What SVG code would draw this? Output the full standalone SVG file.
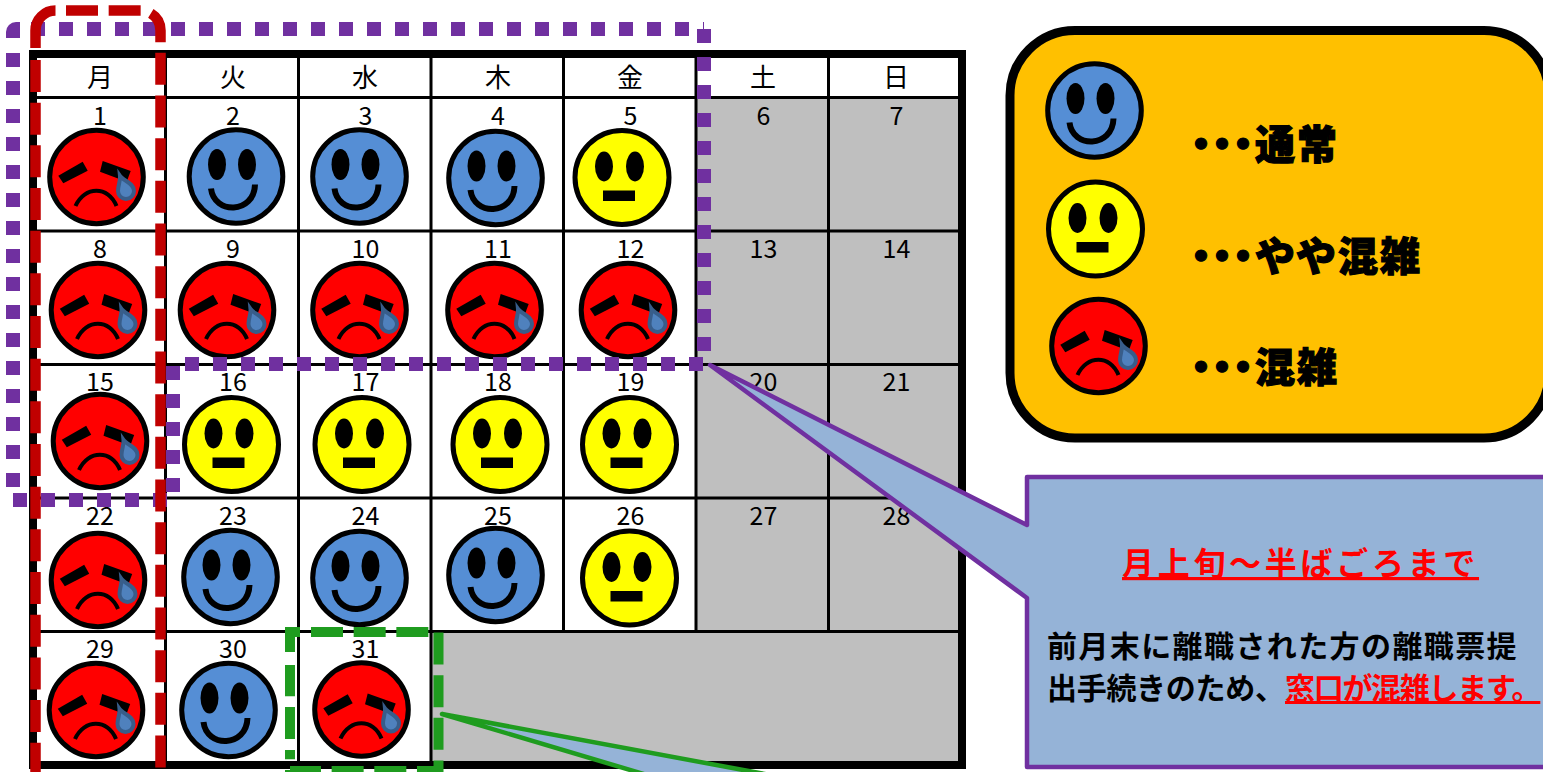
<svg xmlns="http://www.w3.org/2000/svg" width="1543" height="772" viewBox="0 0 1543 772">
<style>
text{font-family:"Noto Sans CJK JP","Liberation Sans",sans-serif;fill:#000}
.h{font-size:26px;text-anchor:middle}
.n{font-size:25px;text-anchor:middle}
.grid{stroke:#000;stroke-width:3;fill:none}
.leg{font-size:40px;font-weight:900;stroke:#000;stroke-width:1.2px}
.t{font-size:30px;font-weight:700}
.r{fill:#f00;text-decoration:underline}
.pd{fill:none;stroke:#7030A0;stroke-width:14;stroke-dasharray:14 14}
.rd{fill:none;stroke:#C00000;stroke-width:10.5;stroke-dasharray:32 10.67}
.gd{fill:none;stroke:#1F9C1F;stroke-width:10;stroke-dasharray:32 10.67}
.face{stroke:#000;stroke-width:5}
</style>
<defs>
<g id="blue">
<circle r="46.8" fill="#558ED5" class="face"/>
<ellipse cx="-19" cy="-12" rx="9" ry="15.5"/><ellipse cx="11" cy="-12" rx="9" ry="15.5"/>
<path d="M-25 12C-22 38 18 38 19 8" fill="none" stroke="#000" stroke-width="6"/>
</g>
<g id="yellow">
<circle r="47" fill="#FF0" class="face"/>
<ellipse cx="-18" cy="-11" rx="9" ry="15"/><ellipse cx="13" cy="-11" rx="9" ry="15"/>
<rect x="-19" y="13" width="32" height="10.5"/>
</g>
<g id="red">
<circle r="46.8" fill="#F00" class="face"/>
<path d="M-38.2-1.3L-13.8-15.3L-8.8-6.3L-33.2 6.3Z"/>
<path d="M6.2-16L34.2-6L30.2 4.7L3.5-5.3Z"/>
<path d="M-21 29C-12 8.600 12 8.600 20 29" fill="none" stroke="#000" stroke-width="4"/>
<path d="M23.500-1C27 4 37.500 6 37.500 14A8 8 0 0 1 21.500 14C21.500 8 24 4 23.500-1Z" fill="#4F81BD" stroke="#385D8A" stroke-width="4"/>
</g>
</defs>
<rect width="1543" height="772" fill="#fff"/>
<g id="calendar">
<rect x="696" y="97" width="262" height="534" fill="#BFBFBF"/>
<rect x="431" y="631" width="527" height="130" fill="#BFBFBF"/>
<path class="grid" d="M37 97.500H958M37 231H958M37 364.500H958M37 498H958M37 631.500H958M165.500 58V761M298.500 58V761M431 58V761M563.500 58V631M696 58V631M828.500 58V631"/>
<rect x="33" y="54" width="929" height="711" fill="none" stroke="#000" stroke-width="8"/>
</g>
<g id="headers">
<text class="h" x="100" y="87">月</text><text class="h" x="233" y="87">火</text><text class="h" x="365" y="87">水</text><text class="h" x="498" y="87">木</text><text class="h" x="630" y="87">金</text><text class="h" x="763" y="87">土</text><text class="h" x="896" y="87">日</text>
</g>
<g id="d1"><text class="n" x="100" y="125">1</text><use href="#red" x="96.500" y="177"/></g>
<g id="d2"><text class="n" x="233" y="125">2</text><use href="#blue" x="236" y="176.500"/></g>
<g id="d3"><text class="n" x="365.500" y="125">3</text><use href="#blue" x="359.500" y="176.500"/></g>
<g id="d4"><text class="n" x="498" y="125">4</text><use href="#blue" x="495.500" y="178"/></g>
<g id="d5"><text class="n" x="630.500" y="125">5</text><use href="#yellow" x="622" y="177.500"/></g>
<g id="d6"><text class="n" x="763.500" y="125">6</text></g>
<g id="d7"><text class="n" x="896.500" y="125">7</text></g>
<g id="d8"><text class="n" x="100" y="258">8</text><use href="#red" x="98" y="310"/></g>
<g id="d9"><text class="n" x="233" y="258">9</text><use href="#red" x="227" y="310"/></g>
<g id="d10"><text class="n" x="365.500" y="258">10</text><use href="#red" x="359.500" y="310"/></g>
<g id="d11"><text class="n" x="498" y="258">11</text><use href="#red" x="494.500" y="310"/></g>
<g id="d12"><text class="n" x="630.500" y="258">12</text><use href="#red" x="628" y="310"/></g>
<g id="d13"><text class="n" x="763.500" y="258">13</text></g>
<g id="d14"><text class="n" x="896.500" y="258">14</text></g>
<g id="d15"><text class="n" x="100" y="391">15</text><use href="#red" x="100" y="441"/></g>
<g id="d16"><text class="n" x="233" y="391">16</text><use href="#yellow" x="231.500" y="444.500"/></g>
<g id="d17"><text class="n" x="365.500" y="391">17</text><use href="#yellow" x="362" y="444.500"/></g>
<g id="d18"><text class="n" x="498" y="391">18</text><use href="#yellow" x="500" y="444.500"/></g>
<g id="d19"><text class="n" x="630.500" y="391">19</text><use href="#yellow" x="629.500" y="444.500"/></g>
<g id="d20"><text class="n" x="763.500" y="391">20</text></g>
<g id="d21"><text class="n" x="896.500" y="391">21</text></g>
<g id="d22"><text class="n" x="100" y="525">22</text><use href="#red" x="98" y="580"/></g>
<g id="d23"><text class="n" x="233" y="525">23</text><use href="#blue" x="230.500" y="577"/></g>
<g id="d24"><text class="n" x="365.500" y="525">24</text><use href="#blue" x="359.500" y="578"/></g>
<g id="d25"><text class="n" x="498" y="525">25</text><use href="#blue" x="495.500" y="575"/></g>
<g id="d26"><text class="n" x="630.500" y="525">26</text><use href="#yellow" x="629.500" y="578"/></g>
<g id="d27"><text class="n" x="763.500" y="525">27</text></g>
<g id="d28"><text class="n" x="896.500" y="525">28</text></g>
<g id="d29"><text class="n" x="100" y="658">29</text><use href="#red" x="96" y="710"/></g>
<g id="d30"><text class="n" x="233" y="658">30</text><use href="#blue" x="228.500" y="710"/></g>
<g id="d31"><text class="n" x="365.500" y="658">31</text><use href="#red" x="361.500" y="709.500"/></g>
<g id="legend">
<rect x="1010" y="30.500" width="539" height="407.500" rx="65" fill="#FFC000" stroke="#000" stroke-width="9"/>
<use href="#blue" x="1094.500" y="110.500"/>
<use href="#yellow" x="1095.500" y="229"/>
<use href="#red" x="1098.500" y="346"/>
<text class="leg" x="1181 1202 1223 1255 1297" y="159">・・・通常</text>
<text class="leg" x="1181 1202 1223 1255 1296 1338 1380" y="271">・・・やや混雑</text>
<text class="leg" x="1181 1202 1223 1255 1297" y="382">・・・混雑</text>
</g>
<g id="connectors">
<path class="pd" d="M31 29H690M704 29V365M703 364H185M173 366V492M167 500H13M13 487V53"/>
<path d="M6 38V32A10 10 0 0 1 16 22H20V38Z" fill="#7030A0"/>
<path d="M703.500 22V29" stroke="#7030A0" fill="none"/>
<path class="rd" d="M66 10.500H140.500A20 20 0 0 1 160.500 30.500V772"/>
<path class="rd" d="M35.500 60V772"/>
<path d="M35.500 48V30.500A20 20 0 0 1 55.500 10.500" fill="none" stroke="#C00000" stroke-width="10.500"/>
<path class="gd" d="M311 632H438.500V771H290V750"/>
<path class="gd" d="M290 739V665"/>
<path d="M300 632H290V652" fill="none" stroke="#1F9C1F" stroke-width="10"/>
</g>
<g id="callout-purple">
<path d="M1027 477H1570V767H1027V598L710 365L1027 525Z" fill="#95B3D7" stroke="#7030A0" stroke-width="4.500" stroke-linejoin="round"/>
<text x="1122" y="575" style="font-size:32px;font-weight:700;letter-spacing:3.700px" class="r">月上旬～半ばごろまで</text>
<text class="t" x="1047" y="657" style="letter-spacing:1.4px">前月末に離職された方の離職票提</text>
<text class="t" x="1047" y="699" style="letter-spacing:-0.300px">出手続きのため、<tspan class="r" x="1285" style="letter-spacing:-1.300px">窓口が混雑します。</tspan></text>
</g>
<g id="callout-green">
<path d="M442 714L647 775H770Z" fill="#95B3D7" stroke="#1F9C1F" stroke-width="4.500" stroke-linejoin="round"/>
</g>
</svg>
